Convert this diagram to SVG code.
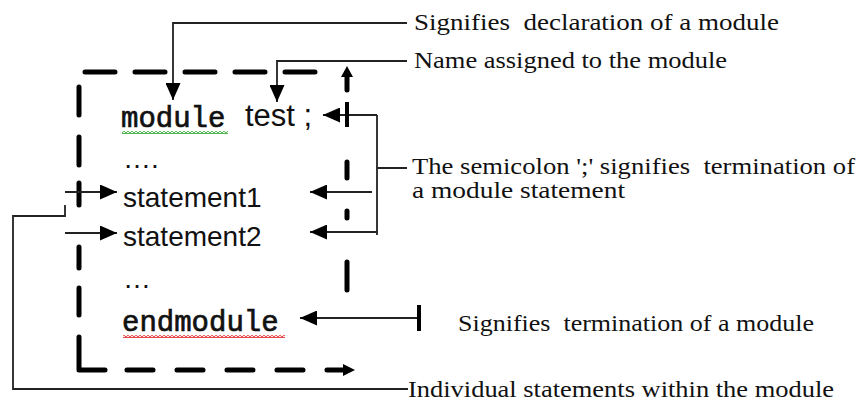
<svg xmlns="http://www.w3.org/2000/svg" width="858" height="402" viewBox="0 0 858 402">
  <style>
    .lbl { font-family: "Liberation Serif", "Times New Roman", serif; font-size: 24px; fill: #111; }
    .code { font-family: "Liberation Sans", Arial, sans-serif; font-size: 28px; fill: #111; }
    .mono { font-family: "Liberation Mono", "Courier New", monospace; font-size: 29px; fill: #111; stroke: #111; stroke-width: 0.7; }
    .conn { fill: none; stroke: #222; stroke-width: 1.8; }
    .dash { fill: none; stroke: #000; stroke-width: 5; stroke-linecap: round; stroke-linejoin: round; }
    .bar { stroke: #000; stroke-width: 4; }
  </style>
  <defs>
    <marker id="ah" markerUnits="userSpaceOnUse" markerWidth="17" markerHeight="15" viewBox="0 0 17 15" refX="17" refY="7.5" orient="auto">
      <path d="M0,0 L17,7.5 L0,15 z" fill="#000"/>
    </marker>
    <pattern id="wg" patternUnits="userSpaceOnUse" width="4" height="3">
      <path d="M0,2.5 L2,0.5 L4,2.5" fill="none" stroke="#3aa83a" stroke-width="1.3"/>
    </pattern>
    <pattern id="wr" patternUnits="userSpaceOnUse" width="4" height="3">
      <path d="M0,2.5 L2,0.5 L4,2.5" fill="none" stroke="#e03030" stroke-width="1.3"/>
    </pattern>
  </defs>

  <g id="module-box">
    <path class="dash" d="M85,72 H115 M135,72 H165 M185,72 H215 M235,72 H265 M285,72 H315"/>
    <path class="dash" d="M347,90 V76"/>
    <path d="M341,77 L347,66 L353,77 z" fill="#000"/>
    <path class="dash" d="M347,162 V178 M347,211 V218 M347,262 V290"/>
    <path class="dash" d="M79,87 V115 M79,137 V165 M79,183 V205 M79,247 V268 M79,288 V315"/>
    <path class="dash" d="M79,337 V370 H105 M127,370 H153 M177,370 H203 M227,370 H253 M277,370 H303 M327,370 H345"/>
    <path d="M343,364 L355,370 L343,376 z" fill="#000"/>
  </g>

  <g id="code">
    <text class="mono" x="121" y="127">module</text>
    <rect x="122" y="131" width="106" height="3" fill="url(#wg)"/>
    <text class="code" x="245" y="126" style="font-size:31px">test ;</text>
    <text class="code" x="123" y="168">….</text>
    <text class="code" x="123" y="207">statement1</text>
    <text class="code" x="123" y="246">statement2</text>
    <text class="code" x="123" y="288">…</text>
    <text class="mono" x="122" y="331">endmodule</text>
    <rect x="123" y="335" width="162" height="3" fill="url(#wr)"/>
  </g>

  <g id="connectors">
    <path class="conn" d="M407,23 H173 V100" marker-end="url(#ah)"/>
    <path class="conn" d="M407,61 H277 V102" marker-end="url(#ah)"/>
    <path class="conn" d="M377,115 V235 M377,168 H407"/>
    <path class="conn" d="M377,115 H323" marker-end="url(#ah)"/>
    <line class="bar" x1="347" y1="102" x2="347" y2="127"/>
    <path class="conn" d="M372,192 H310" marker-end="url(#ah)"/>
    <path class="conn" d="M377,232 H310" marker-end="url(#ah)"/>
    <path class="conn" d="M419,318 H300" marker-end="url(#ah)"/>
    <line class="bar" x1="419" y1="305" x2="419" y2="331" stroke-width="3.5"/>
    <path class="conn" d="M408,389 H13 V216 H65 V205"/>
    <path class="conn" d="M65,192 H117" marker-end="url(#ah)"/>
    <path class="conn" d="M65,233 H117" marker-end="url(#ah)"/>
  </g>

  <g id="label-declaration">
    <text class="lbl" x="414" y="30" textLength="365" lengthAdjust="spacingAndGlyphs" xml:space="preserve">Signifies  declaration of a module</text>
  </g>
  <g id="label-name">
    <text class="lbl" x="414" y="68" textLength="313" lengthAdjust="spacingAndGlyphs">Name assigned to the module</text>
  </g>
  <g id="label-semicolon">
    <text class="lbl" x="412" y="174" textLength="443" lengthAdjust="spacingAndGlyphs" xml:space="preserve">The semicolon ';' signifies  termination of</text>
    <text class="lbl" x="412" y="198" textLength="213" lengthAdjust="spacingAndGlyphs">a module statement</text>
  </g>
  <g id="label-termination">
    <text class="lbl" x="458" y="331" textLength="356" lengthAdjust="spacingAndGlyphs" xml:space="preserve">Signifies  termination of a module</text>
  </g>
  <g id="label-individual">
    <text class="lbl" x="408" y="397" textLength="426" lengthAdjust="spacingAndGlyphs">Individual statements within the module</text>
  </g>
</svg>
